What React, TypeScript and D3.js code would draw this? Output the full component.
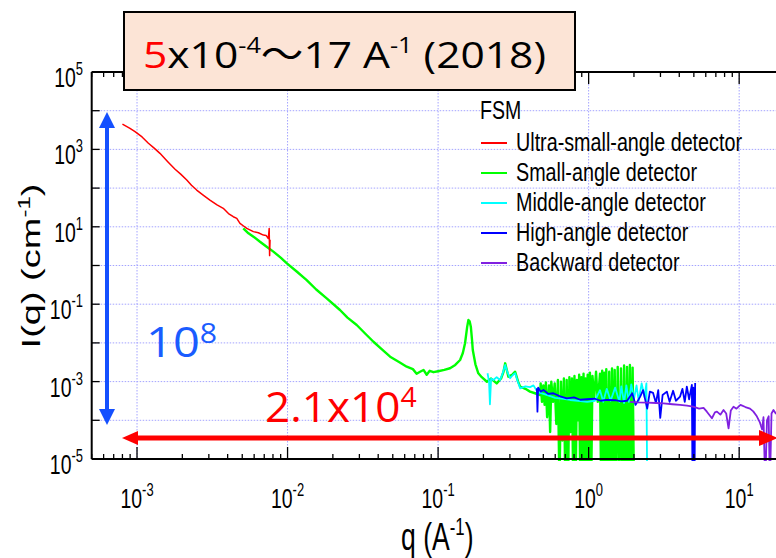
import React, { useRef, useEffect } from 'react';
import * as d3 from 'd3';

// I(q) readings per detector, [q (A^-1), I (cm^-1)]
const ultraSmallAngle: [number, number][] = [
  [8.0e-4, 4500], [8.98e-4, 3510], [9.7e-4, 2870], [1.08e-3, 2100], [1.19e-3, 1440],
  [1.3e-3, 1080], [1.42e-3, 790], [1.6e-3, 480], [1.79e-3, 306], [1.95e-3, 230],
  [2.14e-3, 162], [2.3e-3, 118], [2.49e-3, 89], [2.75e-3, 66], [3.05e-3, 49],
  [3.4e-3, 37], [3.74e-3, 30], [4.05e-3, 22], [4.36e-3, 18.2], [4.6e-3, 16.5],
  [4.83e-3, 12.3], [5.1e-3, 10.5], [5.36e-3, 9.1], [5.93e-3, 7.5], [6.4e-3, 7.0],
  [6.91e-3, 6.1], [7.2e-3, 6.0], [7.45e-3, 5.0], [7.55e-3, 9.0], [7.6e-3, 1.8],
  [7.65e-3, 4.6],
];

const smallAngle: [number, number][] = [
  [5.08e-3, 9.1], [5.5e-3, 6.8], [6.0e-3, 5.4], [6.56e-3, 4.1], [7.3e-3, 3.0],
  [8.05e-3, 2.28], [9.0e-3, 1.6], [9.9e-3, 1.14], [1.15e-2, 0.7], [1.34e-2, 0.42],
  [1.55e-2, 0.24], [1.82e-2, 0.142], [2.23e-2, 0.0708], [2.5e-2, 0.045], [2.88e-2, 0.029],
  [3.3e-2, 0.017], [3.72e-2, 0.0107], [4.2e-2, 7.0e-3], [4.8e-2, 4.4e-3], [5.5e-2, 3.2e-3],
  [6.19e-2, 2.43e-3], [6.8e-2, 2.1e-3], [7.2e-2, 1.6e-3], [7.59e-2, 1.8e-3], [8.0e-2, 2.0e-3],
  [8.4e-2, 1.5e-3], [8.8e-2, 1.9e-3], [9.31e-2, 1.75e-3], [0.1, 1.85e-3], [0.11, 2.0e-3],
  [0.12, 2.21e-3], [0.13, 2.7e-3], [0.14, 3.61e-3], [0.146, 5.5e-3], [0.151, 9.8e-3],
  [0.156, 0.026], [0.159, 0.039], [0.162, 0.036], [0.165, 0.0262], [0.168, 0.012],
  [0.17, 6.56e-3], [0.177, 2.8e-3], [0.185, 1.64e-3], [0.195, 1.3e-3], [0.211, 9.9e-4],
  [0.225, 1.2e-3], [0.245, 9.0e-4], [0.262, 1.2e-3], [0.272, 1.8e-3], [0.279, 2.97e-3],
  [0.286, 2.0e-3], [0.293, 1.34e-3], [0.31, 1.5e-3], [0.325, 1.8e-3], [0.34, 1.0e-3],
  [0.351, 7.4e-4], [0.38, 6.5e-4], [0.408, 5.5e-4], [0.44, 5.0e-4], [0.477, 4.5e-4],
  [0.48, 9e-4], [0.49, 3e-4], [0.5, 8e-4], [0.51, 2.5e-4], [0.52, 9.5e-4],
  [0.53, 1.2e-4], [0.545, 8e-4], [0.555, 5e-5], [0.565, 1.0e-3], [0.58, 3e-4],
  [0.595, 9e-4], [0.61, 8e-5], [0.625, 1.1e-3], [0.64, 2e-6], [0.655, 1.0e-3],
  [0.67, 3e-5], [0.685, 1.2e-3], [0.7, 2e-6], [0.715, 1.1e-3], [0.73, 2e-6],
  [0.745, 1.3e-3], [0.76, 5e-5], [0.775, 1.2e-3], [0.79, 2e-6], [0.805, 1.4e-3],
  [0.82, 2e-6], [0.835, 1.1e-3], [0.85, 1e-4], [0.865, 1.5e-3], [0.88, 2e-6],
  [0.895, 1.3e-3], [0.91, 2e-6], [0.925, 1.6e-3], [0.94, 2e-6], [0.955, 1.2e-3],
  [0.97, 3e-6], [0.985, 1.5e-3], [1.0, 2e-6], [1.02, 1.7e-3], [1.04, 2e-6],
  [1.06, 1.4e-3], [1.09, 4e-4], [1.12, 1.8e-3], [1.15, 3e-4], [1.19, 1.6e-3],
  [1.21, 2e-6], [1.23, 1.9e-3], [1.25, 2e-6], [1.27, 1.7e-3], [1.29, 2e-6],
  [1.31, 2.1e-3], [1.34, 2e-6], [1.37, 1.8e-3], [1.4, 2e-6], [1.43, 2.2e-3],
  [1.46, 2e-6], [1.49, 2.0e-3], [1.52, 2e-6], [1.56, 2.4e-3], [1.6, 2e-6],
  [1.64, 2.2e-3], [1.68, 2e-6], [1.72, 2.6e-3], [1.76, 2e-6], [1.8, 2.4e-3],
  [1.84, 2e-6], [1.88, 2.7e-3], [1.92, 2e-6], [1.96, 2.3e-3], [2.0, 2e-6],
];

const middleAngle: [number, number][] = [
  [0.213, 1.64e-3], [0.218, 1.0e-3], [0.221, 2.6e-4], [0.225, 1.2e-3], [0.233, 1.1e-3],
  [0.245, 1.3e-3], [0.258, 1.1e-3], [0.268, 1.6e-3], [0.279, 2.7e-3], [0.288, 1.8e-3],
  [0.301, 1.22e-3], [0.315, 1.5e-3], [0.325, 1.64e-3], [0.34, 9.5e-4], [0.351, 6.7e-4],
  [0.38, 7.5e-4], [0.408, 7.2e-4], [0.43, 8.0e-4], [0.45, 6.0e-4], [0.477, 5.1e-4],
  [0.52, 4.6e-4], [0.599, 3.8e-4], [0.68, 3.6e-4], [0.754, 3.35e-4], [0.85, 3.2e-4],
  [0.977, 3.0e-4], [1.1, 3.2e-4], [1.19, 6.0e-4], [1.25, 3.0e-4], [1.32, 6.5e-4],
  [1.4, 3.2e-4], [1.5, 7.0e-4], [1.6, 3.0e-4], [1.65, 7.5e-4], [1.72, 2.8e-4],
  [1.78, 8.0e-4], [1.85, 3.0e-4], [1.92, 8.5e-4], [2.0, 3.5e-4], [2.08, 8.0e-4],
  [2.15, 3.2e-4], [2.25, 9.0e-4], [2.35, 4.0e-4], [2.42, 9.0e-4], [2.45, 2e-6],
];

const highAngle: [number, number][] = [
  [0.453, 6.7e-4], [0.457, 1.67e-4], [0.462, 7.0e-4], [0.48, 5.5e-4], [0.501, 6.1e-4],
  [0.54, 4.8e-4], [0.583, 5.0e-4], [0.64, 4.2e-4], [0.716, 3.7e-4], [0.8, 3.9e-4],
  [0.88, 3.4e-4], [0.972, 3.5e-4], [1.1, 3.6e-4], [1.2, 3.2e-4], [1.32, 3.35e-4],
  [1.5, 3.3e-4], [1.65, 3.1e-4], [1.8, 3.2e-4], [1.95, 5.0e-4], [2.05, 2.5e-4],
  [2.2, 4.1e-4], [2.3, 6.0e-4], [2.45, 2.0e-4], [2.55, 5.5e-4], [2.68, 5.1e-4],
  [2.8, 2.8e-4], [2.9, 6.0e-4], [2.99, 1.15e-4], [3.1, 4.5e-4], [3.31, 5.5e-4],
  [3.45, 3.0e-4], [3.64, 5.8e-4], [3.8, 3.2e-4], [4.05, 4.1e-4], [4.2, 6.5e-4],
  [4.35, 3.0e-4], [4.49, 7.4e-4], [4.65, 3.5e-4], [4.85, 8.2e-4], [4.9, 2e-6],
  [4.96, 7e-4], [5.05, 2e-6], [5.1, 9.2e-4],
];

const backward: [number, number][] = [
  [1.887, 3.0e-4], [2.1, 2.9e-4], [2.44, 2.85e-4], [2.8, 2.8e-4], [3.14, 2.75e-4],
  [3.6, 2.6e-4], [4.05, 2.5e-4], [4.5, 2.4e-4], [4.94, 2.25e-4], [5.42, 2.0e-4],
  [5.8, 2.1e-4], [6.1, 1.67e-4], [6.59, 1.13e-4], [6.9, 1.6e-4], [7.12, 1.67e-4],
  [7.5, 1.4e-4], [7.87, 1.85e-4], [8.2, 1.5e-4], [8.5, 6.2e-5], [8.8, 1.8e-4],
  [9.17, 2.25e-4], [9.6, 2.0e-4], [10.2, 2.5e-4], [11.0, 2.2e-4], [11.8, 2.0e-4],
  [12.4, 1.7e-4], [13.1, 1.27e-4], [13.7, 9e-5], [14.2, 5.8e-5], [14.5, 1.2e-4],
  [14.9, 2e-6], [15.3, 1.0e-4], [15.7, 1.27e-4], [16.0, 2e-6], [16.4, 1.5e-4],
  [16.9, 1.85e-4], [17.5, 1.5e-4], [18.5, 2.0e-4], [20, 1.8e-4],
];

const series = [
  { name: 'Ultra-small-angle detector', color: '#ff0000', width: 1.5, values: ultraSmallAngle },
  { name: 'Small-angle detector', color: '#00ff00', width: 2.4, values: smallAngle },
  { name: 'Middle-angle detector', color: '#00ffff', width: 1.8, values: middleAngle },
  { name: 'High-angle detector', color: '#0000ff', width: 1.8, values: highAngle },
  { name: 'Backward detector', color: '#8020e0', width: 1.8, values: backward },
];
const drawOrder = [1, 2, 3, 4, 0];

const xLabelExponents = [-3, -2, -1, 0, 1];
const yLabelExponents = [5, 3, 1, -1, -3, -5];
const xGridExponents = [-3, -2, -1, 0, 1];
const yGridExponents = [-4, -3, -2, -1, 0, 1, 2, 3, 4];

const W = 776;
const H = 558;
const plot = { left: 91.7, right: 811, top: 72, bottom: 459 };
const narrow = 'Liberation Sans, Arial, sans-serif';
const big = 'Open Sans, Noto Sans, sans-serif';

function App() {
  const svgRef = useRef<SVGSVGElement>(null);

  useEffect(() => {
    const svg = d3.select(svgRef.current);
    svg.selectAll('*').remove();

    const x = d3.scaleLog().domain([5e-4, 30]).range([plot.left, plot.right]);
    const y = d3.scaleLog().domain([1e-5, 1e5]).range([plot.bottom, plot.top]);

    svg.append('rect').attr('width', W).attr('height', H).attr('fill', '#fff');

    svg.append('defs').append('clipPath').attr('id', 'plot-clip')
      .append('rect')
      .attr('x', plot.left).attr('y', plot.top)
      .attr('width', plot.right - plot.left).attr('height', plot.bottom - plot.top + 2);

    // dotted grid
    const grid = svg.append('g')
      .attr('stroke', '#a4a4ff')
      .attr('stroke-width', 1)
      .attr('stroke-dasharray', '1.5,1.5');
    xGridExponents.forEach(e => {
      grid.append('line')
        .attr('x1', x(10 ** e)).attr('x2', x(10 ** e))
        .attr('y1', plot.top).attr('y2', plot.bottom);
    });
    yGridExponents.forEach(e => {
      grid.append('line')
        .attr('x1', plot.left).attr('x2', W)
        .attr('y1', y(10 ** e)).attr('y2', y(10 ** e));
    });

    // curves
    const line = d3.line<[number, number]>().x(d => x(d[0])).y(d => y(d[1]));
    const curves = svg.append('g')
      .attr('clip-path', 'url(#plot-clip)')
      .attr('fill', 'none')
      .attr('stroke-linejoin', 'round');
    drawOrder.forEach(i => {
      curves.append('path')
        .attr('d', line(series[i].values))
        .attr('stroke', series[i].color)
        .attr('stroke-width', series[i].width);
    });

    // axes frame
    const axes = svg.append('g').attr('stroke', '#000').attr('stroke-width', 2);
    axes.append('line').attr('x1', plot.left).attr('x2', W).attr('y1', plot.bottom).attr('y2', plot.bottom);
    axes.append('line').attr('x1', plot.left).attr('x2', W).attr('y1', plot.top).attr('y2', plot.top);
    axes.append('line').attr('x1', plot.left).attr('x2', plot.left).attr('y1', plot.top).attr('y2', plot.bottom);

    const ticks = svg.append('g').attr('stroke', '#000').attr('stroke-width', 1.3);
    x.ticks().forEach(t => {
      const major = Math.abs(Math.log10(t) - Math.round(Math.log10(t))) < 1e-6;
      const len = major ? 12 : 5;
      ticks.append('line').attr('x1', x(t)).attr('x2', x(t))
        .attr('y1', plot.bottom).attr('y2', plot.bottom - len);
      ticks.append('line').attr('x1', x(t)).attr('x2', x(t))
        .attr('y1', plot.top).attr('y2', plot.top + len);
    });
    d3.range(-5, 6).forEach(e => {
      ticks.append('line').attr('x1', plot.left).attr('x2', plot.left + 8)
        .attr('y1', y(10 ** e)).attr('y2', y(10 ** e));
    });

    // tick labels (condensed look)
    const powerLabel = (px: number, py: number, exp: number, anchor: string) => {
      const g = svg.append('g').attr('transform', `translate(${px},${py}) scale(0.72,1)`);
      const t = g.append('text')
        .attr('text-anchor', anchor)
        .attr('font-family', narrow)
        .attr('font-size', 27)
        .attr('fill', '#000');
      t.append('tspan').text('10');
      t.append('tspan').attr('dy', -12).attr('font-size', 18).text(String(exp));
    };
    yLabelExponents.forEach(e => powerLabel(83, y(10 ** e) + 15, e, 'end'));
    xLabelExponents.forEach(e => powerLabel(x(10 ** e), 508, e, 'middle'));

    // axis titles
    const xt = svg.append('g').attr('transform', 'translate(401,550) scale(0.7,1)')
      .append('text').attr('font-family', narrow).attr('font-size', 38).attr('fill', '#000');
    xt.append('tspan').text('q (A');
    xt.append('tspan').attr('dy', -15).attr('font-size', 24).text('-1');
    xt.append('tspan').attr('dy', 15).text(')');

    const yt = svg.append('g').attr('transform', 'translate(40,266) scale(0.7,1) rotate(-90)')
      .append('text').attr('text-anchor', 'middle').attr('font-family', narrow)
      .attr('font-size', 38).attr('fill', '#000');
    yt.append('tspan').text('I(q) (cm');
    yt.append('tspan').attr('dy', -15).attr('font-size', 24).text('-1');
    yt.append('tspan').attr('dy', 15).text(')');

    // legend
    svg.append('g').attr('transform', 'translate(480,119) scale(0.78,1)')
      .append('text').attr('font-family', narrow).attr('font-size', 25).attr('fill', '#000').text('FSM');
    series.forEach((s, i) => {
      const ly = 143 + i * 30;
      svg.append('line').attr('x1', 481).attr('x2', 507).attr('y1', ly).attr('y2', ly)
        .attr('stroke', s.color).attr('stroke-width', 2);
      svg.append('g').attr('transform', `translate(516,${ly + 8}) scale(0.79,1)`)
        .append('text').attr('font-family', narrow).attr('font-size', 25).attr('fill', '#000')
        .text(s.name);
    });

    // range arrows
    const blue = '#1450ff';
    svg.append('line').attr('x1', 107).attr('x2', 107).attr('y1', 125).attr('y2', 412)
      .attr('stroke', blue).attr('stroke-width', 4);
    svg.append('path').attr('d', 'M107,112 L99,128 L115,128 Z').attr('fill', blue);
    svg.append('path').attr('d', 'M107,425 L99,409 L115,409 Z').attr('fill', blue);

    const red = '#ff0000';
    svg.append('line').attr('x1', 134).attr('x2', 762).attr('y1', 438).attr('y2', 438)
      .attr('stroke', red).attr('stroke-width', 5);
    svg.append('path').attr('d', 'M122,438 L138,431 L138,445 Z').attr('fill', red);
    svg.append('path').attr('d', 'M778,438 L759,430 L759,446 Z').attr('fill', red);

    const t8 = svg.append('g').attr('transform', 'translate(146,357) scale(1.12,1)')
      .append('text').attr('font-family', big).attr('font-size', 42).attr('fill', '#1a5cff');
    t8.append('tspan').text('10');
    t8.append('tspan').attr('dy', -14).attr('font-size', 27).text('8');

    const t4 = svg.append('g').attr('transform', 'translate(265,422) scale(1.05,1)')
      .append('text').attr('font-family', big).attr('font-size', 42).attr('fill', red);
    t4.append('tspan').text('2.1x10');
    t4.append('tspan').attr('dy', -15).attr('font-size', 27).text('4');

    // title box
    svg.append('rect').attr('x', 124).attr('y', 12).attr('width', 451).attr('height', 78)
      .attr('fill', '#fce4d6').attr('stroke', '#000').attr('stroke-width', 2);
    const tt = svg.append('g').attr('transform', 'translate(143,68) scale(1.15,1)')
      .append('text').attr('font-family', big).attr('font-size', 37).attr('fill', '#000');
    tt.append('tspan').attr('fill', red).text('5');
    tt.append('tspan').text('x10');
    tt.append('tspan').attr('dy', -15).attr('font-size', 22).text('-4');
    tt.append('tspan').attr('dy', 15).attr('font-family', 'Noto Sans CJK JP').text('〜');
    tt.append('tspan').text('17 A');
    tt.append('tspan').attr('dy', -15).attr('font-size', 22).text('-1');
    tt.append('tspan').attr('dy', 15).text('\u00a0(2018)');
  }, []);

  return (
    <svg ref={svgRef} width={W} height={H}
      style={{ position: 'absolute', left: 0, top: 0, display: 'block' }}></svg>
  );
}

export default App;
